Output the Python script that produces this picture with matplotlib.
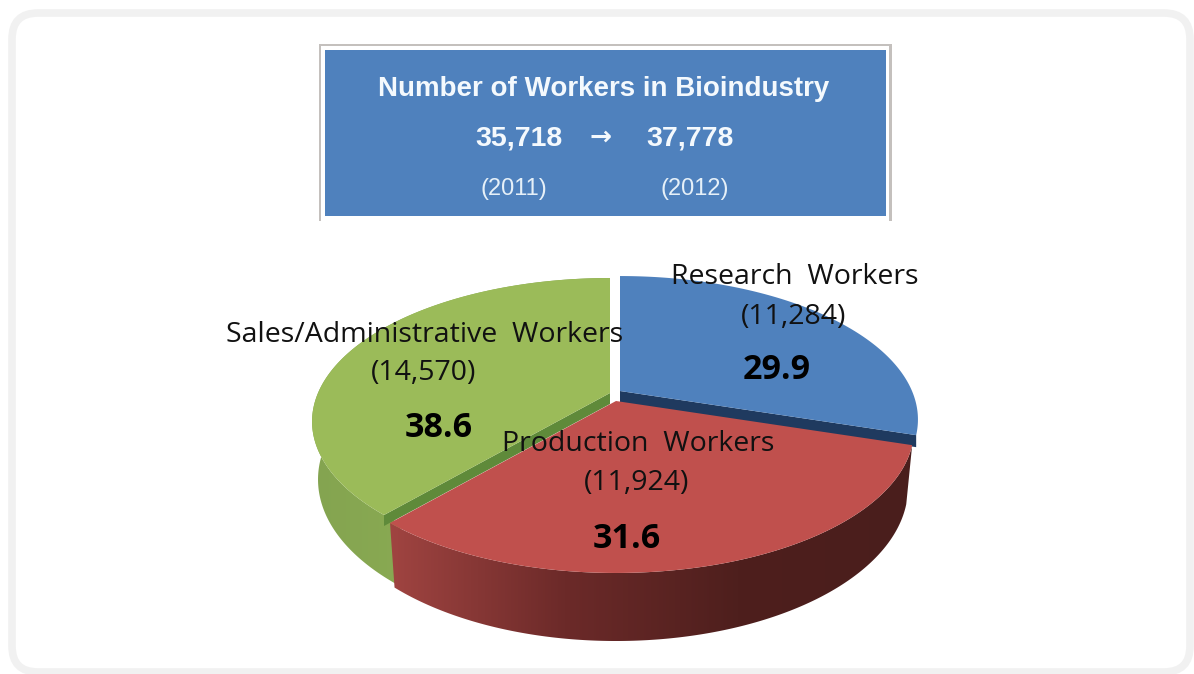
import numpy as np
import matplotlib
matplotlib.use('Agg')
import matplotlib.pyplot as plt
from matplotlib.colors import LinearSegmentedColormap
from matplotlib.patches import FancyBboxPatch, Polygon, Rectangle

# data
categories = ['Research  Workers', 'Production  Workers', 'Sales/Administrative  Workers']
workers = [11284, 11924, 14570]
counts = ['(11,284)', '(11,924)', '(14,570)']
shares = ['29.9', '31.6', '38.6']
title = 'Number of Workers in Bioindustry'
totals = ['35,718', '37,778']
years = ['(2011)', '(2012)']

BLUE = '#4f81bd'
RED = '#c0504d'
GREEN = '#9bbb59'

fig = plt.figure(figsize=(11.94, 6.74), dpi=100)
ax = fig.add_axes([0, 0, 1, 1])
ax.set_xlim(0, 1194)
ax.set_ylim(674, 0)
ax.axis('off')

# background panel
ax.add_patch(FancyBboxPatch((12, 13), 1178, 659, boxstyle='round,pad=0,rounding_size=26',
                            fc='white', ec='#f1f1f1', lw=5.5, zorder=1))

# header box
ax.add_patch(Rectangle((319, 44), 573, 177, fc='#c4c0bd', ec='none', zorder=2))
ax.add_patch(Rectangle((321, 46), 568, 175, fc='white', ec='none', zorder=3))
ax.add_patch(Rectangle((325, 50), 561, 166, fc=BLUE, ec='none', zorder=4))
ax.text(604, 89, title, color='#f4f9fd', fontsize=20, fontweight='bold',
        family='Liberation Sans', ha='center', va='center', zorder=5)
ax.text(519, 139, totals[0], color='#f4f9fd', fontsize=20.5, fontweight='bold',
        family='Liberation Sans', ha='center', va='center', zorder=5)
ax.text(601, 138, '→', color='#f4f9fd', fontsize=19, fontweight='bold',
        family='DejaVu Sans', ha='center', va='center', zorder=5)
ax.text(690, 139, totals[1], color='#f4f9fd', fontsize=20.5, fontweight='bold',
        family='Liberation Sans', ha='center', va='center', zorder=5)
ax.text(514, 189, years[0], color='#e6f0f8', fontsize=17,
        family='Liberation Sans', ha='center', va='center', zorder=5)
ax.text(695, 189, years[1], color='#e6f0f8', fontsize=17,
        family='Liberation Sans', ha='center', va='center', zorder=5)

# pie geometry, a tilted disc seen in perspective
A, B, k = 292.0, 137.8, 0.1987

fractions = np.array(workers) / sum(workers)
edges = 90 - 360 * np.concatenate([[0], np.cumsum(fractions)])


def rim(a1, a2, cx, cy):
    t = np.radians(np.linspace(a1, a2, 200))
    u, v = np.cos(t), np.sin(t)
    d = 1 + k * v
    return cx + A * u / d, cy - B * v / d


def lower(x, y, cx, cy):
    return cx + 0.98 * (x - cx), y + 56 + 0.07 * (y - cy)


def top_face(a1, a2, cx, cy, color, z):
    x, y = rim(a1, a2, cx, cy)
    pts = np.column_stack([np.r_[cx, x], np.r_[cy, y]])
    ax.add_patch(Polygon(pts, closed=True, fc=color, ec='none', zorder=z))


def cut_face(angle, cx, cy, color, z, depth):
    x, y = rim(angle, angle, cx, cy)
    pts = [(cx, cy), (x[0], y[0]), (x[0], y[0] + depth), (cx, cy + depth)]
    ax.add_patch(Polygon(pts, closed=True, fc=color, ec='none', zorder=z))


def side_face(a1, a2, cx, cy, colors, z):
    x, y = rim(a1, a2, cx, cy)
    xb, yb = lower(x, y, cx, cy)
    pts = np.column_stack([np.r_[x, xb[::-1]], np.r_[y, yb[::-1]]])
    poly = Polygon(pts, closed=True, fc='none', ec='none', zorder=z)
    ax.add_patch(poly)
    cmap = LinearSegmentedColormap.from_list('side', colors)
    ext = [pts[:, 0].min(), pts[:, 0].max(), pts[:, 1].max(), pts[:, 1].min()]
    img = ax.imshow(np.linspace(0, 1, 256).reshape(1, -1), cmap=cmap, extent=ext,
                    aspect='auto', zorder=z, interpolation='bilinear')
    img.set_clip_path(poly)


# green slice, moved to the left; its side runs on under the red slice
side_face(edges[2] + 4, edges[3], 610, 393, ['#84a450', '#8cad54', '#7f9d4c'], 6)
cut_face(edges[2], 610, 393, '#5f8a3a', 7, 11)
top_face(edges[2], edges[3], 610, 393, GREEN, 8)

# blue slice, moved up and right
cut_face(edges[1], 620, 391, '#1f3a5f', 7, 12)
top_face(edges[0], edges[1], 620, 391, BLUE, 8)

# red slice
side_face(edges[1], edges[2], 616, 401, ['#a04441', '#6c2a29', '#4e1f1d', '#4a1e1c'], 9)
top_face(edges[1], edges[2], 616, 401, RED, 10)

# labels
label_font = 'Open Sans'
ax.text(795, 277, categories[0], fontsize=20.5, family=label_font, color='#111111',
        ha='center', va='center', zorder=12)
ax.text(794, 317, counts[0], fontsize=20.5, family=label_font, color='#111111',
        ha='center', va='center', zorder=12)
ax.text(777, 370, shares[0], fontsize=24.5, family=label_font, fontweight='bold', color='black',
        ha='center', va='center', zorder=12)
ax.text(638, 444, categories[1], fontsize=20.5, family=label_font, color='#111111',
        ha='center', va='center', zorder=12)
ax.text(637, 483, counts[1], fontsize=20.5, family=label_font, color='#111111',
        ha='center', va='center', zorder=12)
ax.text(627, 539, shares[1], fontsize=24.5, family=label_font, fontweight='bold', color='black',
        ha='center', va='center', zorder=12)
ax.text(425, 335, categories[2], fontsize=20.5, family=label_font, color='#111111',
        ha='center', va='center', zorder=12)
ax.text(424, 373, counts[2], fontsize=20.5, family=label_font, color='#111111',
        ha='center', va='center', zorder=12)
ax.text(439, 428, shares[2], fontsize=24.5, family=label_font, fontweight='bold', color='black',
        ha='center', va='center', zorder=12)

ax.set_xlim(0, 1194)
ax.set_ylim(674, 0)
fig.savefig('out.png', dpi=100, facecolor='white')
